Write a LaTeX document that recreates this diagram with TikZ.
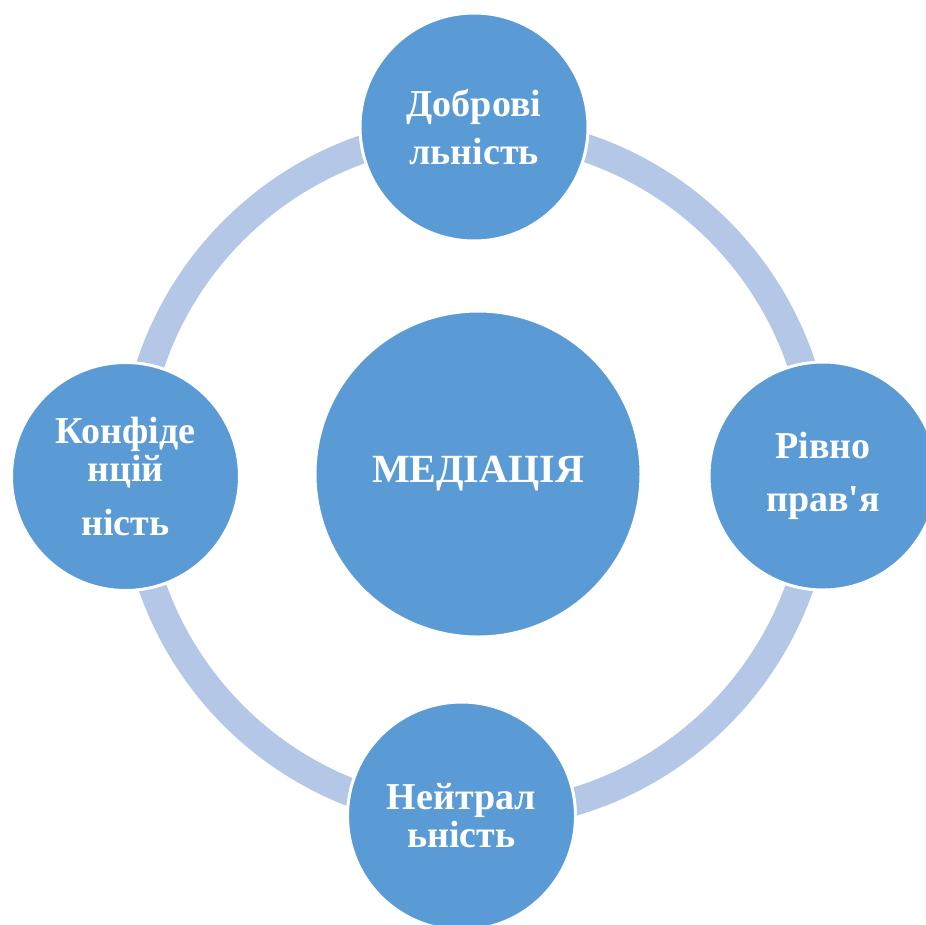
\documentclass[tikz,border=0pt]{standalone}
\usepackage{fontspec}
\setmainfont{Liberation Serif}
\definecolor{nodeblue}{HTML}{5B9BD5}
\definecolor{ringblue}{HTML}{B4C7E7}
\begin{document}
\begin{tikzpicture}[x=1pt,y=-1pt,
  ballnode/.style={circle, fill=nodeblue, draw=white, line width=3pt, minimum size=228pt, inner sep=0pt, align=center, text=white, font=\bfseries\fontsize{38}{48}\selectfont},
  bignode/.style={ballnode, minimum size=326pt, font=\bfseries\fontsize{40}{48}\selectfont}]
\useasboundingbox (0,0) rectangle (926,924);
\clip (0,0) rectangle (926,924);
\coordinate (ringc) at (476,473);
\draw[ringblue, line width=28pt] (ringc) circle[radius=343];
\node[bignode] (med) at (478,474) {МЕДІАЦІЯ};
\node[ballnode] (top) at (474,127) {Доброві\\льність};
\node[ballnode] (right) at (823,476) {Рівно\\[5pt]прав\textquotesingle я};
\node[ballnode, font=\bfseries\fontsize{38}{38}\selectfont] (left) at (125.5,476.5) {Конфіде\\нцій\\[16pt]ність};
\node[ballnode, font=\bfseries\fontsize{38}{38}\selectfont] (bottom) at (461.5,816) {Нейтрал\\ьність};
\end{tikzpicture}
\end{document}
